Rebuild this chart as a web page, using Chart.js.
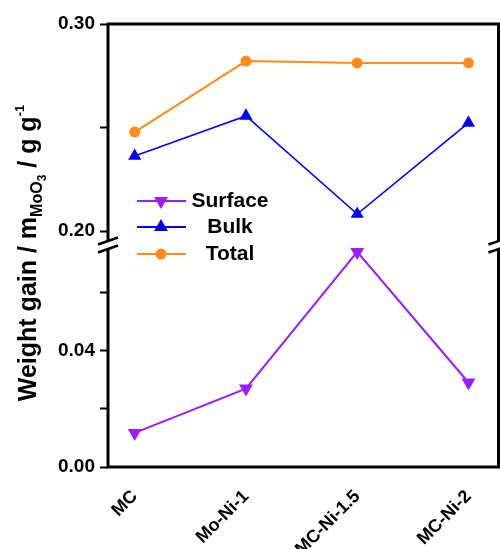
<!DOCTYPE html>
<html>
<head>
<meta charset="utf-8">
<script src="https://cdn.jsdelivr.net/npm/chart.js@4"></script>
<style>
  html, body { margin: 0; padding: 0; background: #fff; }
  #wrap { width: 500px; height: 549px; }
</style>
</head>
<body>
<div id="wrap"><canvas id="chart" width="500" height="549"></canvas></div>
<script>
// samples along the x axis
const categories = ['MC', 'Mo-Ni-1', 'MC-Ni-1.5', 'MC-Ni-2'];

// weight gain, g g-1
const surfaceValues = [0.0117, 0.0269, 0.0738, 0.0290];
const bulkValues = [0.2362, 0.2556, 0.2082, 0.2522];
const totalValues = [0.2478, 0.2821, 0.2812, 0.2812];

// broken y axis: upper and lower segments
const upperTicks = [0.20, 0.25, 0.30];
const upperLabels = ['0.20', '', '0.30'];
const lowerTicks = [0.00, 0.02, 0.04, 0.06];
const lowerLabels = ['0.00', '', '0.04', ''];

const FONT = '"Liberation Sans", Arial, sans-serif';
const colors = {
    surface: '#9b1cff',
    bulk: '#0000ff',
    total: '#ff8c1a'
};

const toPoints = vals => vals.map((v, i) => ({ x: i, y: v }));

// frame, axis breaks, legend and y title
const decorations = {
    id: 'decorations',
    afterDraw(chart) {
        const ctx = chart.ctx;
        const a = chart.chartArea;
        const breakY = chart.scales.yHigh.bottom;

        ctx.save();
        ctx.strokeStyle = '#000';
        ctx.lineWidth = 3;
        ctx.lineCap = 'square';
        ctx.beginPath();
        ctx.moveTo(a.left, breakY);
        ctx.lineTo(a.left, a.top);
        ctx.lineTo(a.right, a.top);
        ctx.lineTo(a.right, a.bottom);
        ctx.lineTo(a.left, a.bottom);
        ctx.closePath();
        ctx.stroke();

        // break marks
        [a.left, a.right].forEach(x => {
            ctx.fillStyle = '#fff';
            ctx.beginPath();
            ctx.moveTo(x - 10, breakY - 1);
            ctx.lineTo(x + 10, breakY - 8);
            ctx.lineTo(x + 10, breakY + 1);
            ctx.lineTo(x - 10, breakY + 8);
            ctx.closePath();
            ctx.fill();
            ctx.strokeStyle = '#000';
            ctx.lineWidth = 2.5;
            ctx.lineCap = 'butt';
            [-4, 4].forEach(d => {
                ctx.beginPath();
                ctx.moveTo(x - 10, breakY + d + 3);
                ctx.lineTo(x + 10, breakY + d - 4);
                ctx.stroke();
            });
        });
        ctx.restore();

        // legend
        const rows = [
            { ds: 0, y: 201 },
            { ds: 1, y: 227 },
            { ds: 2, y: 254 }
        ];
        ctx.save();
        rows.forEach(r => {
            const ds = chart.data.datasets[r.ds];
            ctx.strokeStyle = ds.borderColor;
            ctx.lineWidth = 2;
            ctx.beginPath();
            ctx.moveTo(137, r.y);
            ctx.lineTo(186, r.y);
            ctx.stroke();
            Chart.helpers.drawPoint(ctx, {
                pointStyle: ds.pointStyle,
                rotation: ds.pointRotation || 0,
                radius: ds.pointRadius,
                borderWidth: 1
            }, 161, r.y);
            ctx.fillStyle = ds.borderColor;
            ctx.fill();
            ctx.fillStyle = '#000';
            ctx.font = 'bold 21px ' + FONT;
            ctx.textAlign = 'center';
            ctx.textBaseline = 'middle';
            ctx.fillText(ds.label, 230, r.y);
        });
        ctx.restore();

        // y axis title with sub/superscripts
        const parts = [
            { t: 'Weight gain / m', size: 25, dy: 0 },
            { t: 'MoO', size: 16, dy: 6 },
            { t: '3', size: 12, dy: 10 },
            { t: ' / g g', size: 25, dy: 0 },
            { t: '-1', size: 13, dy: -12 }
        ];
        ctx.save();
        ctx.translate(36, 253);
        ctx.rotate(-Math.PI / 2);
        ctx.fillStyle = '#000';
        ctx.textBaseline = 'alphabetic';
        ctx.textAlign = 'left';
        let total = 0;
        parts.forEach(p => {
            ctx.font = 'bold ' + p.size + 'px ' + FONT;
            p.w = ctx.measureText(p.t).width;
            total += p.w;
        });
        let x = -total / 2;
        parts.forEach(p => {
            ctx.font = 'bold ' + p.size + 'px ' + FONT;
            ctx.fillText(p.t, x, p.dy);
            x += p.w;
        });
        ctx.restore();
    }
};

const yCommon = {
    type: 'linear',
    position: 'left',
    stack: 'y',
    stackWeight: 1,
    border: { display: false },
    grid: {
        drawOnChartArea: false,
        drawTicks: true,
        tickLength: 8,
        tickWidth: 2,
        tickColor: '#000'
    },
    afterFit: s => { s.width = 108; }
};

const ctx = document.getElementById('chart').getContext('2d');
new Chart(ctx, {
    type: 'line',
    data: {
        datasets: [
            {
                label: 'Surface',
                data: toPoints(surfaceValues),
                yAxisID: 'yLow',
                borderColor: colors.surface,
                backgroundColor: colors.surface,
                borderWidth: 2,
                pointStyle: 'triangle',
                pointRotation: 180,
                pointRadius: 6
            },
            {
                label: 'Bulk',
                data: toPoints(bulkValues),
                yAxisID: 'yHigh',
                borderColor: colors.bulk,
                backgroundColor: colors.bulk,
                borderWidth: 1.6,
                pointStyle: 'triangle',
                pointRadius: 6
            },
            {
                label: 'Total',
                data: toPoints(totalValues),
                yAxisID: 'yHigh',
                borderColor: colors.total,
                backgroundColor: colors.total,
                borderWidth: 2,
                pointStyle: 'circle',
                pointRadius: 4.5
            }
        ]
    },
    options: {
        responsive: false,
        animation: false,
        layout: { autoPadding: false, padding: { top: 24, right: 1.5, left: 0, bottom: 0 } },
        plugins: {
            legend: { display: false },
            tooltip: { enabled: false }
        },
        scales: {
            x: {
                type: 'linear',
                min: -0.24,
                max: 3.27,
                afterBuildTicks: s => { s.ticks = categories.map((c, i) => ({ value: i })); },
                afterFit: s => { s.height = 82; s.paddingRight = 0; s.paddingLeft = 0; },
                border: { display: false },
                grid: { display: false },
                ticks: {
                    autoSkip: false,
                    minRotation: 45,
                    maxRotation: 45,
                    padding: 11,
                    color: '#000',
                    font: { family: FONT, size: 18, weight: 'bold' },
                    callback: v => categories[v]
                }
            },
            yLow: Object.assign({}, yCommon, {
                min: 0,
                max: 0.076,
                afterBuildTicks: s => { s.ticks = lowerTicks.map(v => ({ value: v })); },
                ticks: {
                    padding: 5,
                    color: '#000',
                    font: { family: FONT, size: 19, weight: 'bold' },
                    callback: (v, i) => lowerLabels[i]
                }
            }),
            yHigh: Object.assign({}, yCommon, {
                min: 0.193,
                max: 0.30,
                afterBuildTicks: s => { s.ticks = upperTicks.map(v => ({ value: v })); },
                ticks: {
                    padding: 5,
                    color: '#000',
                    font: { family: FONT, size: 19, weight: 'bold' },
                    callback: (v, i) => upperLabels[i]
                }
            })
        }
    },
    plugins: [decorations]
});
</script>
</body>
</html>
